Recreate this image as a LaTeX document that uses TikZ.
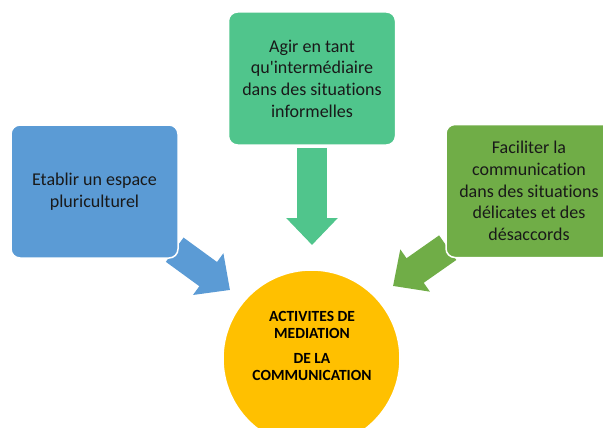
\documentclass[tikz,border=0pt]{standalone}
\usepackage{fontspec}
\setmainfont{Carlito}[Ligatures=NoCommon]
\usetikzlibrary{arrows.meta,backgrounds}
\definecolor{boxblue}{HTML}{5B9BD5}
\definecolor{boxteal}{HTML}{50C58C}
\definecolor{boxolive}{HTML}{70AD47}
\definecolor{circgold}{HTML}{FFC000}
\tikzset{bigarrow/.style={line width=30pt,-{Triangle[length=27pt,width=50pt]}}}

\begin{document}
\begin{tikzpicture}[x=1pt,y=-1pt]
    \useasboundingbox (0,0) rectangle (603,428);
    \clip (0,0) rectangle (603,428);

    \begin{scope}[every node/.style={rectangle,rounded corners=9pt,draw=white,line width=1.5pt,
        text=black!90,align=center,font=\fontsize{18}{21.7}\selectfont,
        minimum width=167pt,minimum height=133pt,inner sep=0pt}]
      \node[fill=boxblue] (A) at (94.5,191.5) {Etablir un espace\\pluriculturel};
      \node[fill=boxteal] (B) at (312,78.5) {Agir en tant\\qu\textquotesingle intermédiaire\\dans des situations\\informelles};
      \node[fill=boxolive,minimum width=166pt] (C) at (529,191) {Faciliter la\\communication\\dans des situations\\délicates et des\\désaccords};
    \end{scope}

    \node[circle,fill=circgold,draw=white,line width=1.5pt,minimum size=177pt,inner sep=0pt] (M) at (311.5,358.5) {};
    \node[align=center,font=\fontsize{15.5}{17.5}\selectfont\bfseries] (T) at (312,346)
         {ACTIVITES DE\\MEDIATION\\[7pt]DE LA\\COMMUNICATION};

    % arrow tips stop short of the circle
    \coordinate (tA) at (230,290);
    \coordinate (tB) at (312,245);
    \coordinate (tC) at (393,286);

    \begin{pgfonlayer}{background}
      \draw[bigarrow,boxblue,shorten <=-5pt] (A) -- (tA);
      \draw[bigarrow,boxteal,shorten <=2pt] (B) -- (tB);
      \draw[bigarrow,boxolive,shorten <=-3pt] (C) -- (tC);
    \end{pgfonlayer}
\end{tikzpicture}
\end{document}
